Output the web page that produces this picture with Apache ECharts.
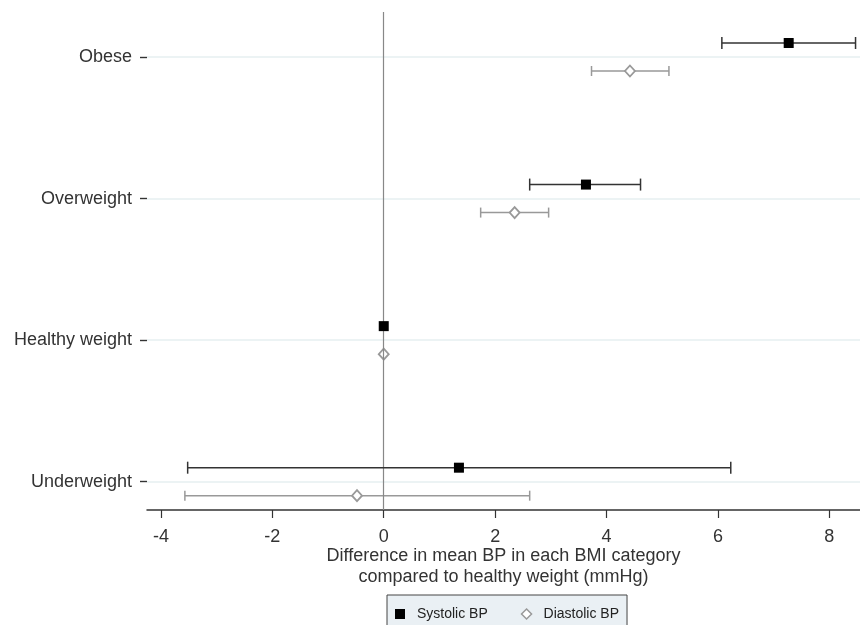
<!DOCTYPE html>
<html>
<head>
<meta charset="utf-8">
<script src="https://cdn.jsdelivr.net/npm/echarts@6/dist/echarts.min.js"></script>
<style>html,body{margin:0;padding:0;background:#fff}#c{width:860px;height:625px}</style>
</head>
<body>
<div id="c"></div>
<script>
// ---- data ----
var categories = ['Underweight', 'Healthy weight', 'Overweight', 'Obese'];
var systolicEst = [1.35, 0, 3.63, 7.27];
var systolicLo  = [-3.52, null, 2.62, 6.07];
var systolicHi  = [6.23, null, 4.61, 8.47];
var diastolicEst = [-0.48, 0, 2.35, 4.42];
var diastolicLo  = [-3.57, null, 1.74, 3.73];
var diastolicHi  = [2.62, null, 2.96, 5.12];
var xTicks = [-4, -2, 0, 2, 4, 6, 8];
var xTitle = 'Difference in mean BP in each BMI category\ncompared to healthy weight (mmHg)';

var FONT = '"Liberation Sans", Arial, sans-serif';
var chart = echarts.init(document.getElementById('c'), null, {renderer: 'canvas'});

function rows(est, lo, hi) {
  return categories.map(function (c, i) { return [est[i], i + 1, lo[i], hi[i]]; });
}
var catPos = categories.map(function (c, i) { return i + 1; });

function makeRender(offset, cap, lineColor, marker) {
  return function (params, api) {
    var est = api.value(0), pos = api.value(1), lo = api.value(2), hi = api.value(3);
    var p = api.coord([est, pos]);
    var y = p[1] + offset;
    var children = [];
    if (lo != null && hi != null && !isNaN(lo) && !isNaN(hi)) {
      var a = api.coord([lo, pos])[0], b = api.coord([hi, pos])[0];
      var ls = {stroke: lineColor, lineWidth: 1.5};
      children.push({type: 'line', shape: {x1: a, y1: y, x2: b, y2: y}, style: ls});
      children.push({type: 'line', shape: {x1: a, y1: y - cap, x2: a, y2: y + cap}, style: ls});
      children.push({type: 'line', shape: {x1: b, y1: y - cap, x2: b, y2: y + cap}, style: ls});
    }
    if (marker === 'square') {
      children.push({type: 'rect', shape: {x: p[0] - 5, y: y - 5, width: 10, height: 10}, style: {fill: '#000'}});
    } else {
      children.push({type: 'polygon', shape: {points: [[p[0], y - 5.5], [p[0] + 5, y], [p[0], y + 5.5], [p[0] - 5, y]]},
        style: {fill: '#fff', stroke: '#999', lineWidth: 1.8}});
    }
    return {type: 'group', children: children};
  };
}

var option = {
  animation: false,
  backgroundColor: '#fff',
  grid: {left: 147, right: 0, top: 12, bottom: 115, containLabel: false},
  xAxis: {
    type: 'value', min: -4.25, max: 8.55,
    axisLine: {show: true, onZero: false, lineStyle: {color: '#333', width: 1.5}},
    axisTick: {show: true, length: 8, customValues: xTicks, lineStyle: {color: '#333', width: 1.2}},
    axisLabel: {customValues: xTicks, color: '#333', fontSize: 18, fontFamily: FONT, margin: 18},
    splitLine: {show: false},
    name: xTitle, nameLocation: 'middle', nameGap: 36, nameMoveOverlap: false,
    nameTextStyle: {color: '#333', fontSize: 18, fontFamily: FONT, lineHeight: 21}
  },
  yAxis: {
    type: 'value', min: 0.8, max: 4.318,
    axisLine: {show: false, onZero: false},
    axisTick: {show: true, length: 7, customValues: catPos, lineStyle: {color: '#333', width: 1.4}},
    axisLabel: {customValues: catPos, margin: 15, color: '#333', fontSize: 18, fontFamily: FONT,
      formatter: function (v) { return categories[Math.round(v) - 1] || ''; }},
    splitLine: {show: false}
  },
  legend: {
    left: 387, top: 595,
    backgroundColor: '#eaf0f4', borderColor: '#444', borderWidth: 1,
    padding: [12, 8, 14, 8], itemGap: 33, itemWidth: 10, itemHeight: 10,
    textStyle: {color: '#222', fontSize: 14, fontFamily: FONT, padding: [0, 0, 0, 7]},
    data: [
      {name: 'Systolic BP', icon: 'rect', itemStyle: {color: '#000'}},
      {name: 'Diastolic BP', icon: 'diamond', itemStyle: {color: '#fff', borderColor: '#999', borderWidth: 1.5}}
    ]
  },
  series: [
    {
      type: 'custom', name: 'Gridlines', silent: true, data: [], renderItem: function () {},
      markLine: {
        silent: true, symbol: 'none', label: {show: false},
        lineStyle: {color: '#e6eff0', width: 1.5, type: 'solid'},
        data: catPos.map(function (v) { return {yAxis: v}; })
      },
      z: 1
    },
    {
      type: 'custom', name: 'Zero', silent: true, data: [], renderItem: function () {},
      markLine: {
        silent: true, symbol: 'none', label: {show: false},
        lineStyle: {color: '#888', width: 1.2, type: 'solid'},
        data: [{xAxis: 0}]
      },
      z: 2
    },
    {
      type: 'custom', name: 'Systolic BP', itemStyle: {color: '#000'},
      renderItem: makeRender(-14, 6, '#333', 'square'),
      encode: {x: [0, 2, 3], y: 1},
      data: rows(systolicEst, systolicLo, systolicHi), z: 5
    },
    {
      type: 'custom', name: 'Diastolic BP', itemStyle: {color: '#999'},
      renderItem: makeRender(14, 5, '#999', 'diamond'),
      encode: {x: [0, 2, 3], y: 1},
      data: rows(diastolicEst, diastolicLo, diastolicHi), z: 4
    }
  ]
};
chart.setOption(option);
</script>
</body>
</html>
